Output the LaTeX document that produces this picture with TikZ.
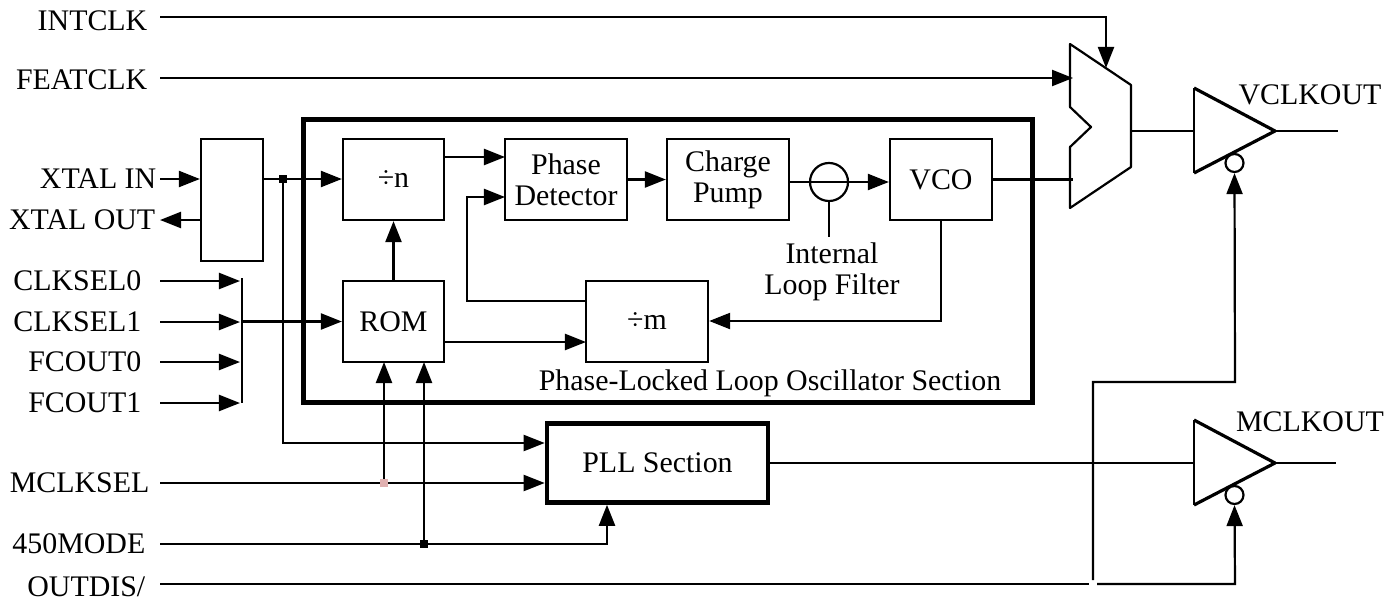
\documentclass[tikz,border=0pt]{standalone}
\usepackage{fontspec}
\setmainfont{Liberation Serif}
\usetikzlibrary{arrows.meta}

\tikzset{
sig/.style={line width=.022cm},
arr/.style={sig,-{Triangle[length=.21cm,width=.16cm]}},
block/.style={draw,line width=.022cm,inner sep=0pt,align=center},
lbl/.style={inner sep=0pt,align=center},
buf/.style={line width=.032cm,line join=round},
bubble/.style={draw,circle,fill=white,line width=.022cm,inner sep=0pt,minimum size=.18cm},
junction/.style={fill=black,inner sep=0pt,minimum size=.08cm},
}
\definecolor{dotpink}{RGB}{224,176,176}

\begin{document}
\begin{tikzpicture}[x=.01cm,y=-.01cm,font=\fontsize{8.5}{8.9}\selectfont]
\useasboundingbox[fill=white] (0,0) rectangle (1400,600);

% section frames
\node[block,line width=.05cm,minimum width=7.28cm,minimum height=2.82cm] (oscbox) at (668,261) {};
\node[lbl] (osclabel) at (770,383) {Phase-Locked Loop Oscillator Section};
\node[block,line width=.045cm,minimum width=2.21cm,minimum height=.79cm] (pllbox) at (657.5,463) {PLL Section};

% blocks
\node[block,minimum width=.62cm,minimum height=1.22cm] (xtalbox) at (232,200) {};
\node[block,minimum width=1.01cm,minimum height=.81cm] (nbox) at (393.5,179.5) {÷n};
\node[block,minimum width=1.01cm,minimum height=.81cm] (rombox) at (393.5,321.5) {ROM};
\node[block,minimum width=1.22cm,minimum height=.81cm] (pdbox) at (566,179.5) {Phase\\Detector};
\node[block,minimum width=1.22cm,minimum height=.81cm] (cpbox) at (728,179.5) {Charge\\Pump};
\node[block,minimum width=1.02cm,minimum height=.81cm] (vcobox) at (941,179.5) {VCO};
\node[block,minimum width=1.22cm,minimum height=.81cm] (mbox) at (647,321.5) {÷m};

% loop filter
\node[draw,circle,line width=.022cm,inner sep=0pt,minimum size=.38cm] (filter) at (829,182) {};
\coordinate (filterend) at (829,237);
\node[lbl] (filterlabel) at (832,272) {Internal\\Loop Filter};
\draw[sig] (filter.south) -- (filterend);

% mux
\coordinate (muxa) at (1070,44);
\coordinate (muxb) at (1131,85);
\coordinate (muxc) at (1131,167);
\coordinate (muxd) at (1070,208);
\coordinate (muxe) at (1070,147);
\coordinate (muxf) at (1091,127);
\coordinate (muxg) at (1070,107);
\coordinate (muxin) at (1073,180);
\draw[sig,line join=round] (muxa) -- (muxb) -- (muxc) -- (muxd) -- (muxe) -- (muxf) -- (muxg) -- cycle;

% output buffers
\coordinate (vtop) at (1194,88);
\coordinate (vtip) at (1275,131);
\coordinate (vbot) at (1194,173);
\coordinate (vend) at (1338,131);
\coordinate (mtop) at (1194,420);
\coordinate (mtip) at (1275,463);
\coordinate (mbot) at (1194,505);
\coordinate (mend) at (1336,463);
\draw[sig] (vtop) -- (vbot);
\draw[buf] (vtop) -- (vtip) -- (vbot);
\draw[sig] (mtop) -- (mbot);
\draw[buf] (mtop) -- (mtip) -- (mbot);
\draw[sig] (vtip) -- (vend);
\draw[sig] (mtip) -- (mend);
\node[bubble] (vbubble) at (1234.5,163) {};
\node[bubble] (mbubble) at (1234.5,495) {};
\node[lbl] (vclkout) at (1310,95) {VCLKOUT};
\node[lbl] (mclkout) at (1310,422) {MCLKOUT};

% input labels
\node[lbl,anchor=east] (intclk) at (148,21) {INTCLK};
\node[lbl,anchor=east] (featclk) at (148,80) {FEATCLK};
\node[lbl,anchor=east] (xin) at (157,179) {XTAL IN};
\node[lbl,anchor=east] (xout) at (156,220) {XTAL OUT};
\node[lbl,anchor=east] (mclksel) at (150,483) {MCLKSEL};
\node[lbl,anchor=east] (modesel) at (146,544) {450MODE};
\node[lbl,anchor=east] (outdis) at (146,587) {OUTDIS/};

% select bus
\coordinate (bustop) at (242,278);
\coordinate (busbot) at (242,403);
\foreach \nm/\txt/\ypos in {csel0/CLKSEL0/281,csel1/CLKSEL1/322,fc0/FCOUT0/362,fc1/FCOUT1/403}{
\node[lbl,anchor=east] (\nm) at (142,\ypos) {\txt};
\coordinate (\nm start) at (160,\ypos);
\coordinate (\nm end) at (240,\ypos);
\draw[arr] (\nm start) -- (\nm end);
}
\draw[sig] (bustop) -- (busbot);
\draw[arr] (bustop |- rombox.west) -- (rombox.west);

% inputs
\coordinate (intstart) at (160,17);
\coordinate (intcorner) at (1106,17);
\coordinate (intend) at (1106,68);
\draw[arr] (intstart) -- (intcorner) -- (intend);
\coordinate (featstart) at (160,78);
\coordinate (featend) at (1073,78);
\draw[arr] (featstart) -- (featend);
\draw[arr] ([xshift=.03cm]xin.east) -- (xtalbox.west |- xin);
\draw[arr] (xtalbox.west |- xout) -- ([xshift=.04cm]xout.east);

% crystal output
\coordinate (xtaldot) at (283,179);
\coordinate (pllupper) at (283,443);
\draw[arr] (xtalbox.east |- xtaldot) -- (nbox.west |- xtaldot);
\draw[arr] (xtaldot) -- (pllupper) -- (pllbox.west |- pllupper);
\node[junction] (xtaljunction) at (xtaldot) {};

% oscillator loop
\coordinate (pdupper) at (505,157);
\coordinate (pdlower) at (505,197);
\coordinate (fbcorner) at (467,197);
\coordinate (fbstart) at (586,301);
\coordinate (romout) at (586,342);
\coordinate (vcoturn) at (941,321);
\draw[arr] (rombox.north) -- (nbox.south);
\draw[arr] (nbox.east |- pdupper) -- (pdupper);
\draw[arr] (pdbox.east) -- (cpbox.west);
\draw[arr] (cpbox.east |- filter) -- (vcobox.west |- filter);
\draw[sig] (vcobox.east) -- (vcobox.east -| muxin);
\draw[arr] (vcobox.south) -- (vcoturn) -- (mbox.east |- vcoturn);
\draw[arr] (rombox.east |- romout) -- (romout);
\draw[arr] (fbstart) -- (fbstart -| fbcorner) -- (fbcorner) -- (pdlower);

% lines below the section
\coordinate (romleft) at (384,362);
\coordinate (romright) at (424,362);
\coordinate (mclkdot) at (384,483);
\coordinate (modedot) at (424,544);
\coordinate (modeturn) at (607,544);
\draw[arr] ([xshift=.1cm]mclksel.east) -- (pllbox.west |- mclksel);
\draw[arr] ([xshift=.14cm]modesel.east) -- (modeturn) -- (pllbox.south -| modeturn);
\draw[arr] (mclkdot) -- (romleft);
\draw[arr] (modedot) -- (romright);
\node[junction,fill=dotpink] (mclkjunction) at (mclkdot) {};
\node[junction] (modejunction) at (modedot) {};

% outputs and disable
\coordinate (muxout) at (1131,131);
\coordinate (gapleft) at (1089,584);
\coordinate (gapright) at (1097,584);
\coordinate (discorner) at (1235,584);
\coordinate (disturn) at (1093,382);
\coordinate (disdown) at (1093,580);
\coordinate (disup) at (1235,382);
\draw[sig] (muxout) -- (vtop |- muxout);
\draw[sig] (pllbox.east) -- (mtop |- pllbox.east);
\draw[sig] ([xshift=.14cm]outdis.east |- gapleft) -- (gapleft);
\draw[arr] (gapright) -- (discorner) -- (mbubble.south);
\draw[arr] (disdown) -- (disturn) -- (disup) -- (vbubble.south);
\end{tikzpicture}
\end{document}
